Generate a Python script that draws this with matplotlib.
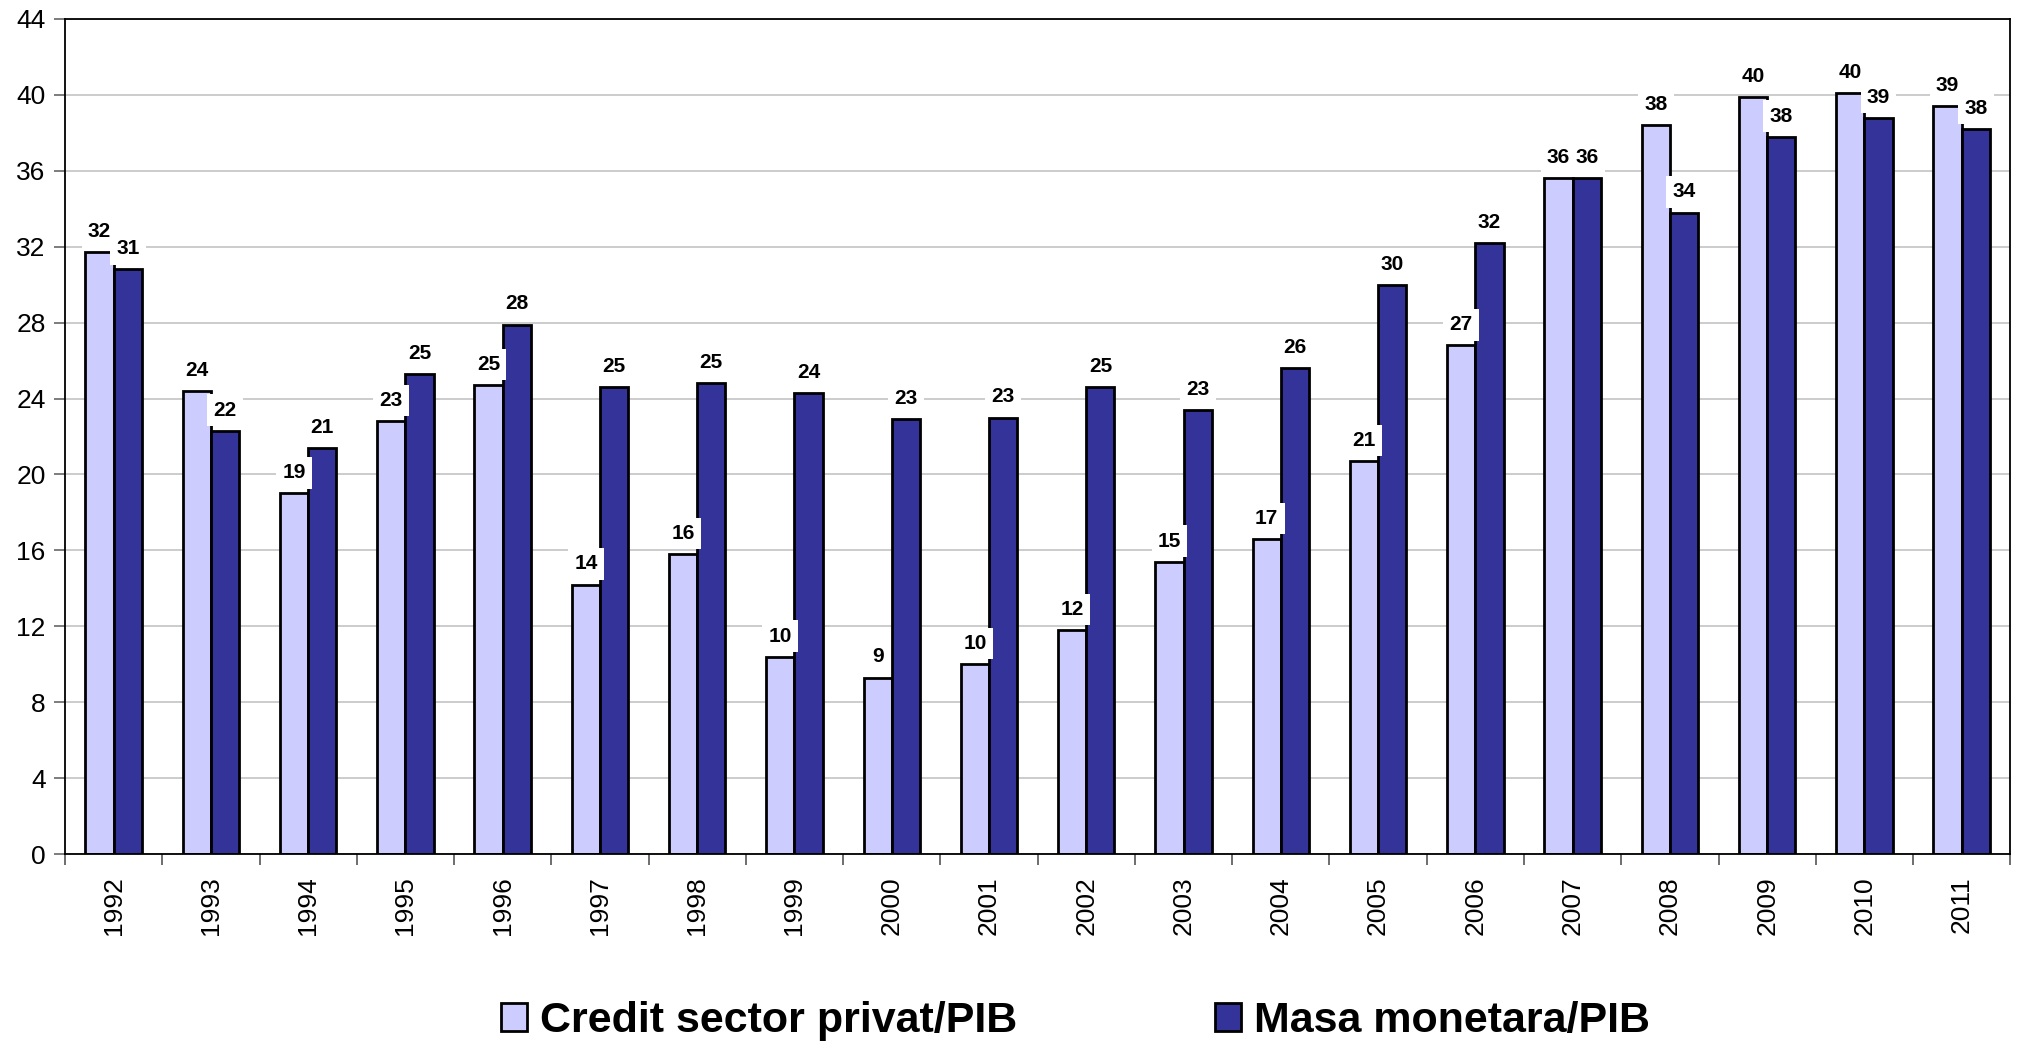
import numpy as np
import matplotlib.pyplot as plt

years = ['1992', '1993', '1994', '1995', '1996', '1997', '1998', '1999', '2000', '2001',
         '2002', '2003', '2004', '2005', '2006', '2007', '2008', '2009', '2010', '2011']
credit = [31.7, 24.4, 19.0, 22.8, 24.7, 14.2, 15.8, 10.4, 9.3, 10.0,
          11.8, 15.4, 16.6, 20.7, 26.8, 35.6, 38.4, 39.9, 40.1, 39.4]
masa = [30.8, 22.3, 21.4, 25.3, 27.9, 24.6, 24.8, 24.3, 22.9, 23.0,
        24.6, 23.4, 25.6, 30.0, 32.2, 35.6, 33.8, 37.8, 38.8, 38.2]

plt.rcParams['font.family'] = ['Liberation Sans', 'DejaVu Sans']

fig = plt.figure(figsize=(20.18, 10.42), dpi=100)
ax = fig.add_axes([0.0322, 0.1804, 0.9640, 0.8014])

x = np.arange(len(years))
w = 0.29
b1 = ax.bar(x - w / 2, credit, w, color='#CCCCFF', edgecolor='black', linewidth=2,
            label='Credit sector privat/PIB', zorder=2)
b2 = ax.bar(x + w / 2, masa, w, color='#333399', edgecolor='black', linewidth=2,
            label='Masa monetara/PIB', zorder=2)

# value labels on white boxes, like the spreadsheet original
for bars, vals in ((b1, credit), (b2, masa)):
    for r, v in zip(bars, vals):
        ax.annotate(f'{v:.0f}', (r.get_x() + r.get_width() / 2, v), xytext=(0, 8),
                    textcoords='offset points', ha='center', va='bottom',
                    fontsize=15, fontweight='bold', zorder=3,
                    bbox=dict(boxstyle='square,pad=0.3', fc='white', ec='none'))

ax.set_xlim(-0.5, len(years) - 0.5)
ax.set_ylim(0, 44)
ax.set_yticks(np.arange(0, 45, 4))
ax.tick_params(axis='y', labelsize=19, length=8, width=1.2, direction='out', pad=6,
               color='#666666')
ax.set_xticks(np.arange(-0.5, len(years), 1))
ax.set_xticklabels([])
ax.set_xticks(x, minor=True)
ax.set_xticklabels(years, minor=True, rotation=90, fontsize=19)
ax.tick_params(axis='x', which='major', length=8, width=1.2, color='#555555')
ax.tick_params(axis='x', which='minor', length=0, pad=16)
ax.grid(axis='y', color='#c8c8c8', linewidth=1.3, zorder=0)
ax.set_axisbelow(True)
for s in ax.spines.values():
    s.set_linewidth(1.3)

fig.legend(handles=[b1, b2], loc='center', bbox_to_anchor=(0.533, 0.02), ncol=2,
           frameon=False, handlelength=0.6, handleheight=0.6, handletextpad=0.3,
           columnspacing=4.6, borderpad=0,
           prop=dict(weight='bold', size=31))

fig.savefig('out.png', dpi=100)
